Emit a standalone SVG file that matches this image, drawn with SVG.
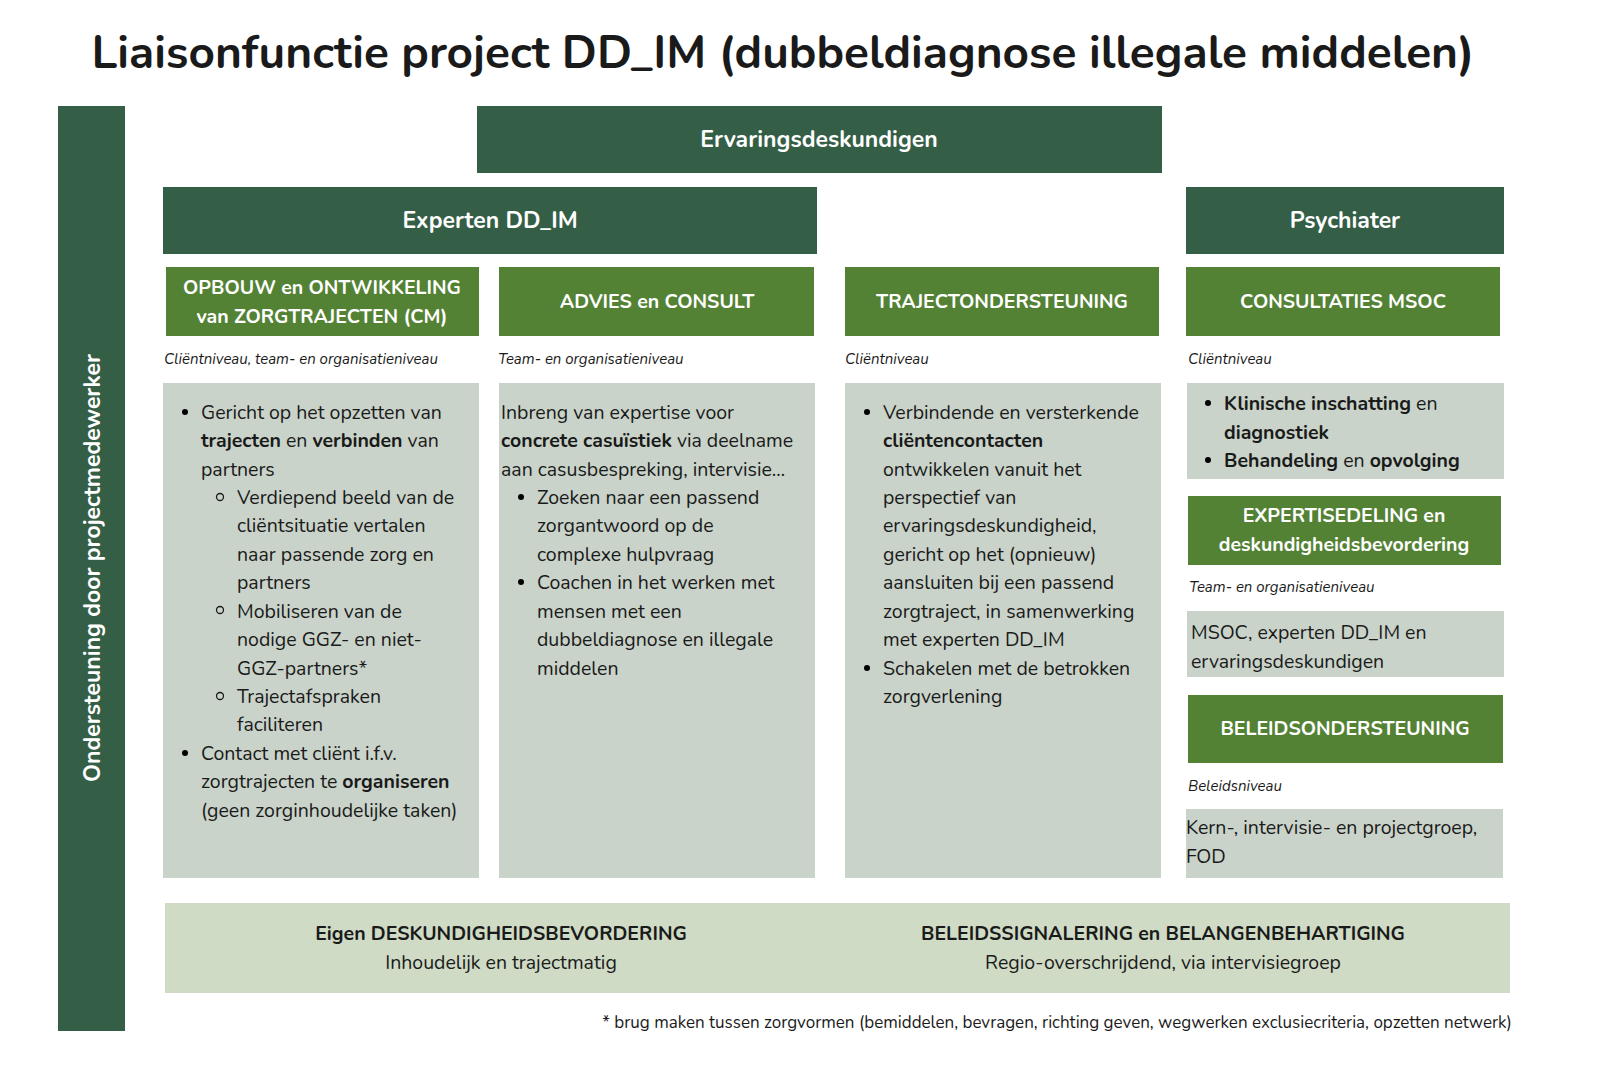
<svg xmlns="http://www.w3.org/2000/svg" width="1600" height="1080" viewBox="0 0 1600 1080">
<style>
text{font-family:"Nunito","Lato","Open Sans",sans-serif;fill:#1a1a1a}
.dk{fill:#355E47}.md{fill:#548235}.gr{fill:#C9D3C9}.lt{fill:#CFDBC5}
.h{fill:#fff;font-weight:bold;font-size:23px;text-anchor:middle}
.s{fill:#fff;font-weight:bold;font-size:19.5px;text-anchor:middle}
.i{font-style:italic;font-size:15px}
.b{font-size:19.5px}
.bb{font-weight:bold}
</style>
<rect width="1600" height="1080" fill="#fff"/>
<text x="783" y="68" font-size="46" font-weight="bold" text-anchor="middle">Liaisonfunctie project DD_IM (dubbeldiagnose illegale middelen)</text>
<g id="ondersteuning"><rect class="dk" x="58" y="106" width="67" height="925"/>
<text class="h" transform="translate(100,568) rotate(-90)">Ondersteuning door projectmedewerker</text></g>
<g id="ervaring"><rect class="dk" x="477" y="106" width="685" height="67"/><text class="h" x="819" y="147">Ervaringsdeskundigen</text></g>
<g id="experten"><rect class="dk" x="163" y="187" width="654" height="67"/><text class="h" x="490" y="228">Experten DD_IM</text></g>
<g id="psychiater"><rect class="dk" x="1186" y="187" width="318" height="67"/><text class="h" x="1345" y="228">Psychiater</text></g>

<g id="opbouw"><rect class="md" x="166" y="267" width="313" height="69"/>
<text class="s" x="322" y="294">OPBOUW en ONTWIKKELING</text><text class="s" x="322" y="323">van ZORGTRAJECTEN (CM)</text>
<text class="i" x="164" y="364">Cliëntniveau, team- en organisatieniveau</text>
<rect class="gr" x="163" y="383" width="316" height="495"/>
<g class="b">
<circle cx="185" cy="412" r="3"/><text x="201" y="419">Gericht op het opzetten van</text>
<text x="201" y="447"><tspan class="bb">trajecten</tspan> en <tspan class="bb">verbinden</tspan> van</text>
<text x="201" y="476">partners</text>
<circle cx="220" cy="497" r="3.5" fill="none" stroke="#1a1a1a" stroke-width="1.3"/><text x="237" y="504">Verdiepend beeld van de</text>
<text x="237" y="532">cliëntsituatie vertalen</text>
<text x="237" y="561">naar passende zorg en</text>
<text x="237" y="589">partners</text>
<circle cx="220" cy="610" r="3.5" fill="none" stroke="#1a1a1a" stroke-width="1.3"/><text x="237" y="618">Mobiliseren van de</text>
<text x="237" y="646">nodige GGZ- en niet-</text>
<text x="237" y="675">GGZ-partners*</text>
<circle cx="220" cy="696" r="3.5" fill="none" stroke="#1a1a1a" stroke-width="1.3"/><text x="237" y="703">Trajectafspraken</text>
<text x="237" y="731">faciliteren</text>
<circle cx="185" cy="753" r="3"/><text x="201" y="760">Contact met cliënt i.f.v.</text>
<text x="201" y="788">zorgtrajecten te <tspan class="bb">organiseren</tspan></text>
<text x="201" y="817">(geen zorginhoudelijke taken)</text>
</g></g>

<g id="advies"><rect class="md" x="499" y="267" width="315" height="69"/>
<text class="s" x="657" y="308">ADVIES en CONSULT</text>
<text class="i" x="498" y="364">Team- en organisatieniveau</text>
<rect class="gr" x="499" y="383" width="316" height="495"/>
<g class="b">
<text x="501" y="419">Inbreng van expertise voor</text>
<text x="501" y="447"><tspan class="bb">concrete casuïstiek</tspan> via deelname</text>
<text x="501" y="476">aan casusbespreking, intervisie…</text>
<circle cx="521" cy="497" r="3"/><text x="537" y="504">Zoeken naar een passend</text>
<text x="537" y="532">zorgantwoord op de</text>
<text x="537" y="561">complexe hulpvraag</text>
<circle cx="521" cy="582" r="3"/><text x="537" y="589">Coachen in het werken met</text>
<text x="537" y="618">mensen met een</text>
<text x="537" y="646">dubbeldiagnose en illegale</text>
<text x="537" y="675">middelen</text>
</g></g>

<g id="traject"><rect class="md" x="845" y="267" width="314" height="69"/>
<text class="s" x="1002" y="308">TRAJECTONDERSTEUNING</text>
<text class="i" x="845" y="364">Cliëntniveau</text>
<rect class="gr" x="845" y="383" width="316" height="495"/>
<g class="b">
<circle cx="867" cy="412" r="3"/><text x="883" y="419">Verbindende en versterkende</text>
<text x="883" y="447" class="bb">cliëntencontacten</text>
<text x="883" y="476">ontwikkelen vanuit het</text>
<text x="883" y="504">perspectief van</text>
<text x="883" y="532">ervaringsdeskundigheid,</text>
<text x="883" y="561">gericht op het (opnieuw)</text>
<text x="883" y="589">aansluiten bij een passend</text>
<text x="883" y="618">zorgtraject, in samenwerking</text>
<text x="883" y="646">met experten DD_IM</text>
<circle cx="867" cy="668" r="3"/><text x="883" y="675">Schakelen met de betrokken</text>
<text x="883" y="703">zorgverlening</text>
</g></g>

<g id="msoc"><rect class="md" x="1186" y="267" width="314" height="69"/>
<text class="s" x="1343" y="308">CONSULTATIES MSOC</text>
<text class="i" x="1188" y="364">Cliëntniveau</text>
<rect class="gr" x="1187" y="383" width="317" height="96"/>
<g class="b">
<circle cx="1208" cy="403" r="3"/><text x="1224" y="410"><tspan class="bb">Klinische inschatting</tspan> en</text>
<text x="1224" y="439" class="bb">diagnostiek</text>
<circle cx="1208" cy="460" r="3"/><text x="1224" y="467"><tspan class="bb">Behandeling</tspan> en <tspan class="bb">opvolging</tspan></text>
</g></g>

<g id="expertise"><rect class="md" x="1188" y="496" width="313" height="69"/>
<text class="s" x="1344" y="522">EXPERTISEDELING en</text><text class="s" x="1344" y="551">deskundigheidsbevordering</text>
<text class="i" x="1189" y="592">Team- en organisatieniveau</text>
<rect class="gr" x="1187" y="611" width="317" height="66"/>
<text class="b" x="1191" y="639">MSOC, experten DD_IM en</text>
<text class="b" x="1191" y="668">ervaringsdeskundigen</text></g>

<g id="beleid"><rect class="md" x="1188" y="695" width="315" height="68"/>
<text class="s" x="1345" y="735">BELEIDSONDERSTEUNING</text>
<text class="i" x="1188" y="791">Beleidsniveau</text>
<rect class="gr" x="1186" y="809" width="317" height="69"/>
<text class="b" x="1186" y="834">Kern-, intervisie- en projectgroep,</text>
<text class="b" x="1186" y="863">FOD</text></g>

<g id="onder"><rect class="lt" x="165" y="903" width="1345" height="90"/>
<text class="b bb" x="501" y="940" text-anchor="middle">Eigen DESKUNDIGHEIDSBEVORDERING</text>
<text class="b" x="501" y="969" text-anchor="middle">Inhoudelijk en trajectmatig</text>
<text class="b bb" x="1163" y="940" text-anchor="middle">BELEIDSSIGNALERING en BELANGENBEHARTIGING</text>
<text class="b" x="1163" y="969" text-anchor="middle">Regio-overschrijdend, via intervisiegroep</text></g>
<text x="1512" y="1028" font-size="17" text-anchor="end">* brug maken tussen zorgvormen (bemiddelen, bevragen, richting geven, wegwerken exclusiecriteria, opzetten netwerk)</text>
<g id="connectors"/>
</svg>
